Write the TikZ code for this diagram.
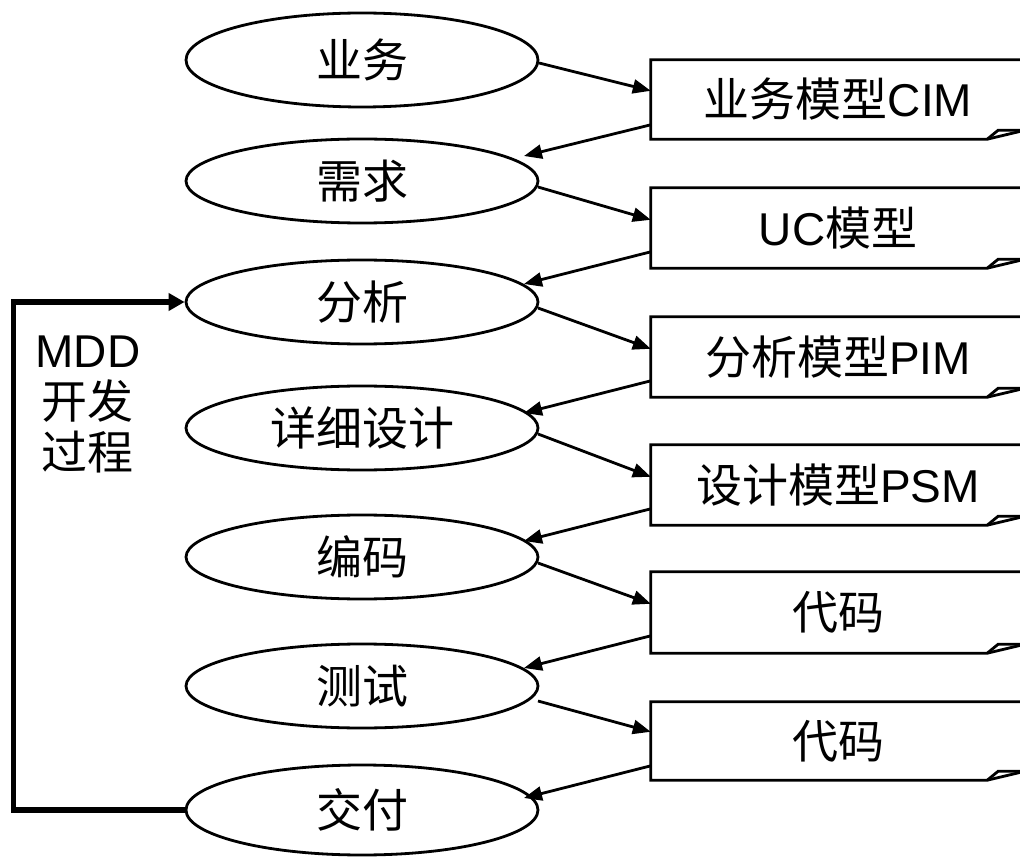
\documentclass[tikz,border=0pt]{standalone}
\usepackage{fontspec}
\setmainfont{Liberation Sans}
\newfontfamily\cjk{Noto Sans CJK SC}
\usetikzlibrary{shapes.geometric,arrows.meta}
\tikzset{
  stage/.style={ellipse, draw, line width=2.8pt, minimum width=352pt, minimum height=84pt, inner sep=0pt},
  art/.style={rectangle, minimum width=374pt, minimum height=80pt, inner sep=0pt},
  artline/.style={line width=2.8pt, line join=miter},
  flow/.style={line width=2.8pt, -{Triangle[length=18pt,width=14pt]}},
  fb/.style={line width=5.5pt, line join=miter, -{Triangle[length=16pt,width=17pt]}},
  txt/.style={font=\fontsize{46}{51}\selectfont}
}
\newcommand{\artbox}[1]{%
  \draw[artline] (#1.north west) -- (#1.north east) -- ([yshift=9pt]#1.south east)
    -- ([xshift=-38pt]#1.south east) -- (#1.south west) -- cycle;
  \draw[artline] ([xshift=-38pt]#1.south east) -- ([xshift=-27pt,yshift=9pt]#1.south east)
    -- ([yshift=9pt]#1.south east);
}
\begin{document}
\begin{tikzpicture}[x=1pt,y=-1pt]
\useasboundingbox (0,0) rectangle (1020,858);
\clip (0,0) rectangle (1020,858);
\fill[white] (0,0) rectangle (1020,858);

% stages
\node[stage, txt, minimum height=94pt] (e1) at (362,60)  {\cjk 业务};
\node[stage, txt] (e2) at (362,181) {\cjk 需求};
\node[stage, txt] (e3) at (362,302) {\cjk 分析};
\node[stage, txt] (e4) at (362,428) {\cjk 详细设计};
\node[stage, txt] (e5) at (362,557) {\cjk 编码};
\node[stage, txt] (e6) at (362,686) {\cjk 测试};
\node[stage, txt, minimum height=90pt] (e7) at (362,810) {\cjk 交付};

% artifacts
\node[art, txt, minimum height=79pt] (b1) at (838,99.5) {{\cjk 业务模型}CIM};
\node[art, txt] (b2) at (838,228) {UC{\cjk 模型}};
\node[art, txt] (b3) at (838,357) {{\cjk 分析模型}PIM};
\node[art, txt] (b4) at (838,485) {{\cjk 设计模型}PSM};
\node[art, txt, minimum height=81pt] (b5) at (838,612.5) {\cjk 代码};
\node[art, txt, minimum height=78pt] (b6) at (838,741) {\cjk 代码};
\artbox{b1}\artbox{b2}\artbox{b3}\artbox{b4}\artbox{b5}\artbox{b6}

% stage -> artifact
\draw[flow] ([shift={(177pt,-3pt)}]e1.center) -- ([yshift=-31pt]b1.north west);
\draw[flow] ([shift={(176pt,-6pt)}]e2.center) -- ([yshift=-32pt]b2.north west);
\draw[flow] ([shift={(176pt,-6pt)}]e3.center) -- ([yshift=-32pt]b3.north west);
\draw[flow] ([shift={(176pt,-6pt)}]e4.center) -- ([yshift=-32pt]b4.north west);
\draw[flow] ([shift={(176pt,-6pt)}]e5.center) -- ([yshift=-32pt]b5.north west);
\draw[flow] ([shift={(176pt,-15pt)}]e6.center) -- ([yshift=-30pt]b6.north west);

% artifact -> next stage
\draw[flow] ([yshift=-65pt]b1.north west) -- ([shift={(162pt,25pt)}]e2.center);
\draw[flow] ([yshift=-64pt]b2.north west) -- ([shift={(162pt,18pt)}]e3.center);
\draw[flow] ([yshift=-64pt]b3.north west) -- ([shift={(162pt,15pt)}]e4.center);
\draw[flow] ([yshift=-64pt]b4.north west) -- ([shift={(162pt,16pt)}]e5.center);
\draw[flow] ([yshift=-64pt]b5.north west) -- ([shift={(162pt,18pt)}]e6.center);
\draw[flow] ([yshift=-64pt]b6.north west) -- ([shift={(162pt,12pt)}]e7.center);

% feedback loop
\draw[fb] (e7.west) -- ++(-171pt,0pt) |- (e3.west);
\node[txt, align=center] (mdd) at (88,404) {MDD\\{\cjk 开发}\\{\cjk 过程}};
\end{tikzpicture}
\end{document}
